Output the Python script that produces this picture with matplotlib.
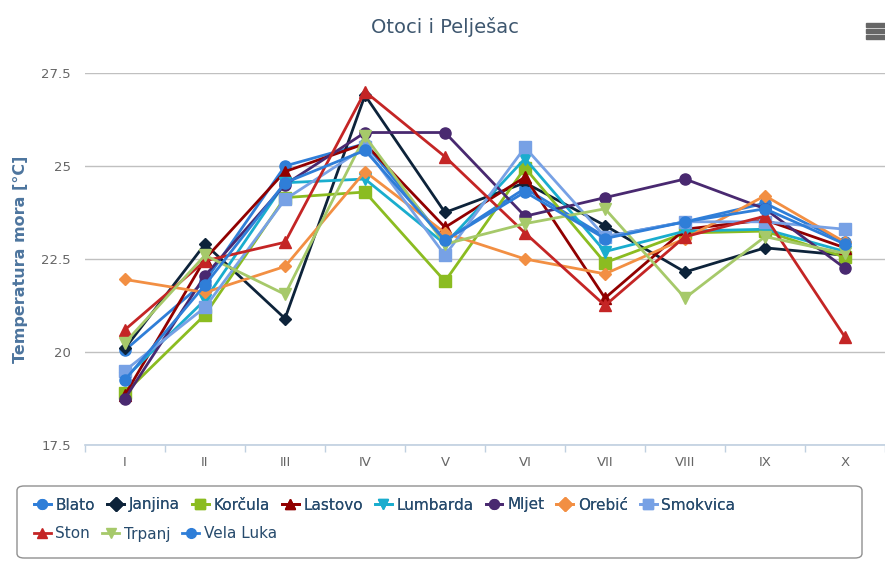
import numpy as np
import matplotlib.pyplot as plt
from matplotlib.patches import FancyBboxPatch, Rectangle

months = ["I", "II", "III", "IV", "V", "VI", "VII", "VIII", "IX", "X"]

blato = [20.05, 21.9, 25.0, 25.6, 23.0, 24.4, 23.1, 23.5, 24.0, 22.95]
janjina = [20.1, 22.9, 20.9, 26.9, 23.75, 24.55, 23.4, 22.15, 22.8, 22.6]
korcula = [18.9, 21.0, 24.15, 24.3, 21.9, 24.95, 22.4, 23.2, 23.25, 22.55]
lastovo = [18.85, 22.5, 24.85, 25.6, 23.35, 24.7, 21.45, 23.3, 23.55, 22.8]
lumbarda = [19.3, 21.4, 24.55, 24.65, 22.9, 25.2, 22.7, 23.25, 23.3, 22.7]
mljet = [18.75, 22.05, 24.5, 25.9, 25.9, 23.65, 24.15, 24.65, 23.85, 22.25]
orebic = [21.95, 21.6, 22.3, 24.85, 23.2, 22.5, 22.1, 23.05, 24.2, 22.95]
smokvica = [19.5, 21.2, 24.1, 25.5, 22.6, 25.5, 23.1, 23.5, 23.5, 23.3]
ston = [20.6, 22.45, 22.95, 27.0, 25.25, 23.2, 21.25, 23.1, 23.65, 20.4]
trpanj = [20.25, 22.6, 21.55, 25.8, 22.9, 23.45, 23.85, 21.45, 23.1, 22.65]
vela_luka = [19.25, 21.8, 24.55, 25.42, 23.0, 24.3, 23.05, 23.5, 23.85, 22.9]

series = [
    ("Blato", blato, "#2f7ed8", "o"),
    ("Janjina", janjina, "#0d233a", "D"),
    ("Korčula", korcula, "#8bbc21", "s"),
    ("Lastovo", lastovo, "#910000", "^"),
    ("Lumbarda", lumbarda, "#1aadce", "v"),
    ("Mljet", mljet, "#492970", "o"),
    ("Orebić", orebic, "#f28f43", "D"),
    ("Smokvica", smokvica, "#77a1e5", "s"),
    ("Ston", ston, "#c42525", "^"),
    ("Trpanj", trpanj, "#a6c96a", "v"),
    ("Vela Luka", vela_luka, "#2f7ed8", "o"),
]

msizes = {"o": 8, "D": 6, "s": 8, "^": 8, "v": 8}

fig = plt.figure(figsize=(8.85, 5.64), dpi=100)
ax = fig.add_axes([85 / 885, 1 - 445 / 564, 800 / 885, (445 - 73) / 564])

x = np.arange(len(months))
handles = []
for name, vals, col, mk in series:
    h, = ax.plot(x, vals, color=col, lw=2.0, marker=mk, ms=msizes[mk],
                 mec=col, mfc=col, label=name)
    handles.append(h)

ax.set_xlim(-0.5, len(months) - 0.5)
ax.set_ylim(17.5, 27.5)
ax.set_yticks([17.5, 20, 22.5, 25, 27.5])
ax.set_yticklabels(["17.5", "20", "22.5", "25", "27.5"])
ax.set_xticks(x)
ax.set_xticklabels(months)
ax.set_xticks(np.arange(-0.5, len(months), 1.0), minor=True)

ax.grid(True, axis="y", color="#c0c0c0", lw=1)
ax.set_axisbelow(True)
for s in ["top", "right", "left"]:
    ax.spines[s].set_visible(False)
ax.spines["bottom"].set_color("#c0d0e0")
ax.spines["bottom"].set_linewidth(1.2)
ax.spines["bottom"].set_zorder(0.6)
ax.tick_params(axis="y", length=0, labelsize=9.5, labelcolor="#666666", pad=10)
ax.tick_params(axis="x", which="major", length=0, labelsize=9.5,
               labelcolor="#666666", pad=8)
ax.tick_params(axis="x", which="minor", length=5, color="#c0d0e0", width=1)

ax.set_ylabel("Temperatura mora [°C]", color="#4d759e", fontsize=11.5,
              fontweight="bold", labelpad=10)

fig.text(445 / 885, 1 - 27 / 564, "Otoci i Pelješac", ha="center", va="center",
         fontsize=14, color="#3e576f")

# menu icon
for yy in [25, 31, 37]:
    fig.patches.append(Rectangle((866 / 885, 1 - (yy + 2) / 564), 19 / 885, 4 / 564,
                                 transform=fig.transFigure, color="#666666"))

# legend box
fig.patches.append(FancyBboxPatch((17 / 885, 1 - 558 / 564), 845 / 885, 72 / 564,
                                  boxstyle="round,pad=0,rounding_size=0.008",
                                  transform=fig.transFigure, fc="white",
                                  ec="#909090", lw=1))

leg_kw = dict(frameon=False, handlelength=1.1, handletextpad=0.3,
              columnspacing=0.8, fontsize=11, labelcolor="#274b6d",
              borderaxespad=0, borderpad=0)
leg1 = fig.legend(handles=handles[:8], ncol=8, loc="center left",
                  bbox_to_anchor=(34 / 885, 1 - 505 / 564), **leg_kw)
for h in leg1.legend_handles:
    h.set_markersize(7)
fig.add_artist(leg1)
leg2 = fig.legend(handles=handles[8:], ncol=3, loc="center left",
                  bbox_to_anchor=(34 / 885, 1 - 534 / 564), **leg_kw)
for h in leg2.legend_handles:
    h.set_markersize(7)

fig.savefig("out.png", dpi=100)
